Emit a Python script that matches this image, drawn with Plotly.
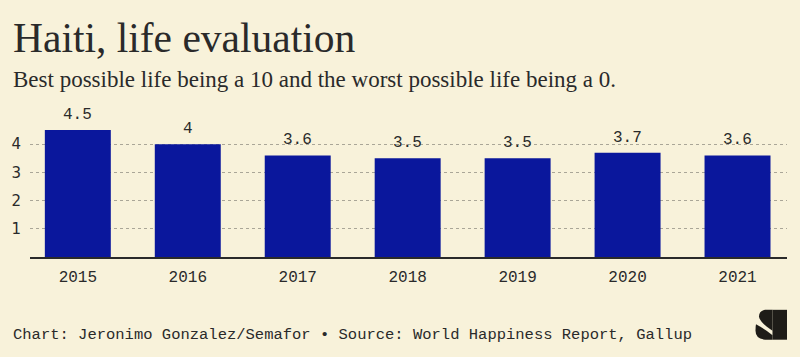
import plotly.graph_objects as go

years = ["2015", "2016", "2017", "2018", "2019", "2020", "2021"]
values = [4.5, 4.0, 3.6, 3.5, 3.5, 3.7, 3.6]
labels = ["4.5", "4", "3.6", "3.5", "3.5", "3.7", "3.6"]
y_ticks = [1, 2, 3, 4]

title = "Haiti, life evaluation"
subtitle = "Best possible life being a 10 and the worst possible life being a 0."
footer = "Chart: Jeronimo Gonzalez/Semafor \u2022 Source: World Happiness Report, Gallup"

BG = "#f8f2da"
BAR = "#0a179c"
INK = "#2a2a2a"
MONO = "Liberation Mono, Courier New, monospace"
SERIF = "Liberation Serif, Times New Roman, serif"
SANS = "DejaVu Sans, Verdana, sans-serif"

W, H = 800, 357
L, R = 30, 787
T, B = 115.5, 257.0


def px(x):
    return (x - L) / (R - L)


def py(y):
    return (B - y) / (B - T)


def path(points_cmds):
    out = []
    for item in points_cmds:
        if isinstance(item, str):
            out.append(item)
        else:
            out.append(f"{px(item[0]):.5f},{py(item[1]):.5f}")
    return " ".join(out)


fig = go.Figure()
fig.add_trace(go.Bar(x=years, y=values, marker=dict(color=BAR, line=dict(width=0)),
                     width=0.6, hoverinfo="skip"))

for i, (v, lab) in enumerate(zip(values, labels)):
    fig.add_annotation(x=i, y=v, text=lab, showarrow=False, yanchor="bottom", yshift=4,
                       font=dict(family=MONO, size=16, color=INK))

fig.add_annotation(xref="paper", yref="paper", x=px(11), y=py(12), xanchor="left", yanchor="top",
                   text=title, showarrow=False, font=dict(family=SERIF, size=41.5, color=INK))
fig.add_annotation(xref="paper", yref="paper", x=px(11), y=py(64), xanchor="left", yanchor="top",
                   text=subtitle, showarrow=False, font=dict(family=SERIF, size=23, color=INK))
fig.add_annotation(xref="paper", yref="paper", x=px(11), y=py(335), xanchor="left", yanchor="middle",
                   text=footer, showarrow=False, font=dict(family=MONO, size=15.5, color=INK))

# Semafor-style logo (decoration)
LOGO = "#1e1c18"
logo_parts = [
    ["M", (772.5, 310), "L", (772.5, 340), "L", (787, 340), "L", (787, 310), "Z"],
    ["M", (772.5, 310), "L", (765, 310), "Q", (759, 311), (759, 317),
     "Q", (760, 323), (772.5, 331), "Z"],
    ["M", (756, 324.5), "Q", (766, 330), (772.5, 335.5), "L", (772.5, 340), "L", (765, 340),
     "Q", (755.5, 339), (755.5, 331), "Q", (755.5, 327), (756, 324.5), "Z"],
]
for part in logo_parts:
    fig.add_shape(type="path", xref="paper", yref="paper", path=path(part),
                  fillcolor=LOGO, line=dict(width=0), layer="above")

fig.update_layout(
    width=W, height=H,
    margin=dict(l=L, r=W - R, t=T, b=H - B, pad=0, autoexpand=False),
    paper_bgcolor=BG, plot_bgcolor=BG,
    showlegend=False,
    bargap=0.4,
    xaxis=dict(type="category", range=[-0.435, 6.45], showgrid=False, showline=True,
               linecolor=INK, linewidth=1.5, ticks="outside", ticklen=4, tickcolor="rgba(0,0,0,0)",
               tickfont=dict(family=MONO, size=16, color=INK), fixedrange=True, automargin=False),
    yaxis=dict(range=[0, 5], tickvals=y_ticks, showgrid=True, gridcolor="#aaa697", griddash="dot",
               gridwidth=1, zeroline=False, showline=False, ticks="outside", ticklen=5,
               tickcolor="rgba(0,0,0,0)", tickfont=dict(family=SANS, size=15, color=INK),
               fixedrange=True, automargin=False),
)

fig.write_html("out.html", config={"displayModeBar": False},
               post_script="document.body.style.margin='0';document.body.style.background='" + BG + "';")
